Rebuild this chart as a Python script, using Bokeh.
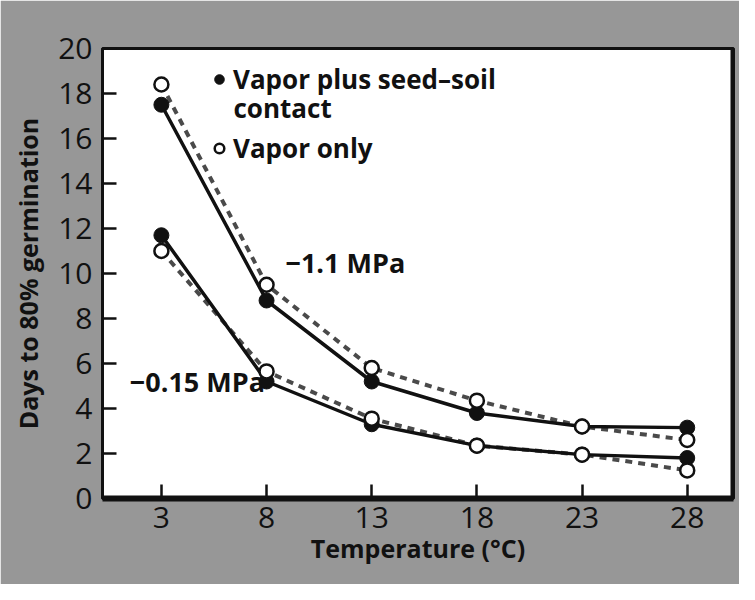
from bokeh.plotting import figure
from bokeh.models import (Range1d, FixedTicker, Label, Legend, LegendItem, Span, ColumnDataSource)
from bokeh.embed import file_html
from bokeh.resources import INLINE

# ---- data ----
temps = [3, 8, 13, 18, 23, 28]
hi_contact = [17.5, 8.8, 5.2, 3.8, 3.2, 3.15]
hi_vapor = [18.4, 9.5, 5.8, 4.35, 3.2, 2.6]
lo_contact = [11.7, 5.2, 3.3, 2.35, 1.95, 1.8]
lo_vapor = [11.0, 5.65, 3.55, 2.35, 1.95, 1.25]
x_ticks = [3, 8, 13, 18, 23, 28]
y_ticks = [0, 2, 4, 6, 8, 10, 12, 14, 16, 18, 20]
x_lo, x_hi = 0.2, 30.2
y_lo, y_hi = 0, 20

FONT = "Open Sans"
BG = "#979797"
INK = "#111111"

p = figure(width=739, height=584, output_backend="svg", toolbar_location=None,
           x_range=Range1d(x_lo, x_hi), y_range=Range1d(y_lo, y_hi),
           min_border_left=102, min_border_right=6, min_border_top=48, min_border_bottom=86)
p.border_fill_color = BG
p.background_fill_color = "white"
p.outline_line_color = INK
p.outline_line_width = 3
p.grid.visible = False

p.xaxis.ticker = FixedTicker(ticks=x_ticks)
p.yaxis.ticker = FixedTicker(ticks=y_ticks)
for ax in (p.xaxis, p.yaxis):
    ax.major_tick_in = 14
    ax.major_tick_out = 0
    ax.major_tick_line_width = 2.5
    ax.major_tick_line_color = INK
    ax.minor_tick_line_color = None
    ax.axis_line_color = INK
    ax.major_label_text_font = FONT
    ax.major_label_text_color = INK
    ax.axis_label_text_font = FONT
    ax.axis_label_text_font_style = "bold"
    ax.axis_label_text_color = INK
p.xaxis.axis_line_width = 6
p.yaxis.axis_line_width = 3
p.xaxis.major_label_text_font_size = "30px"
p.yaxis.major_label_text_font_size = "30px"
p.xaxis.major_label_standoff = 8
p.yaxis.major_label_standoff = 10
p.xaxis.axis_label = "Temperature (°C)"
p.yaxis.axis_label = "Days to 80% germination"
p.xaxis.axis_label_text_font_size = "25px"
p.yaxis.axis_label_text_font_size = "25px"
p.xaxis.axis_label_standoff = 0
p.yaxis.axis_label_standoff = 10

p.add_layout(Span(location=x_hi, dimension="height", line_color=INK, line_width=6))

src = ColumnDataSource(dict(t=temps, hc=hi_contact, hv=hi_vapor, lc=lo_contact, lv=lo_vapor))

DASH_C = "#4a4a4a"
p.line("t", "hv", source=src, line_color=DASH_C, line_width=4, line_dash="7 6")
p.line("t", "lv", source=src, line_color=DASH_C, line_width=4, line_dash="7 6")
p.line("t", "hc", source=src, line_color=INK, line_width=3.5)
p.line("t", "lc", source=src, line_color=INK, line_width=3.5)

r_hc = p.scatter("t", "hc", source=src, size=15, marker="circle", fill_color=INK, line_color=INK)
p.scatter("t", "lc", source=src, size=15, marker="circle", fill_color=INK, line_color=INK)
r_hv = p.scatter("t", "hv", source=src, size=14, marker="circle", fill_color="white",
                 line_color=INK, line_width=2.5)
p.scatter("t", "lv", source=src, size=14, marker="circle", fill_color="white",
          line_color=INK, line_width=2.5)

legend = Legend(items=[LegendItem(label="Vapor plus seed–soil", renderers=[r_hc]),
                       LegendItem(label="Vapor only", renderers=[r_hv])],
                location=(105, 332))
legend.background_fill_alpha = 0
legend.border_line_alpha = 0
legend.label_text_font = FONT
legend.label_text_font_style = "bold"
legend.label_text_font_size = "26px"
legend.label_text_color = INK
legend.glyph_width = 24
legend.glyph_height = 28
legend.label_standoff = 2
legend.spacing = 33
legend.padding = 0
legend.margin = 0
p.add_layout(legend)

p.add_layout(Label(x=131, y=391, x_units="screen", y_units="screen", text="contact",
                   text_font=FONT, text_font_style="bold", text_font_size="26px",
                   text_color=INK, text_baseline="middle", text_align="left"))

p.add_layout(Label(x=8.9, y=10.5, text="−1.1 MPa", text_font=FONT, text_font_size="27px",
                   text_font_style="bold", text_color=INK, text_baseline="middle", text_align="left"))
p.add_layout(Label(x=1.5, y=5.2, text="−0.15 MPa", text_font=FONT, text_font_size="27px",
                   text_font_style="bold", text_color=INK, text_baseline="middle", text_align="left"))

open("out.html", "w").write(file_html(p, INLINE))
